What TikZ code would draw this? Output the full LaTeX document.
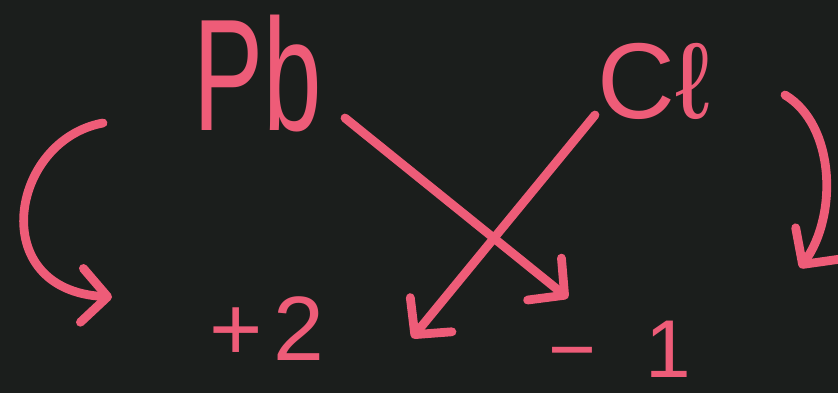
\documentclass[tikz,border=0pt]{standalone}
\usepackage{fontspec}
\setmainfont{Liberation Sans}
\usetikzlibrary{arrows.meta}
\definecolor{board}{RGB}{27,30,28}
\definecolor{chalk}{RGB}{238,92,120}
\begin{document}
\begin{tikzpicture}[x=0.03cm,y=-0.03cm,
  chalktext/.style={text=chalk,inner sep=0pt,anchor=base},
  chalkline/.style={draw=chalk,line width=7.5pt,line cap=round,line join=round,
    -{Straight Barb[length=22pt,width=46pt,line width=7.5pt,round]}}]
\fill[board] (0,0) rectangle (838,393);
\useasboundingbox (0,0) rectangle (838,393);
\node[chalktext,font=\fontsize{136}{136}\selectfont,xscale=0.66,transform shape] (pb) at (258,130) {Pb};
\node[chalktext,font=\fontsize{92}{92}\selectfont] (cl) at (654,118) {Cℓ};
\node[chalktext,font=\fontsize{78}{78}\selectfont] (plus) at (267,360) {+\kern0.12em 2};
\node[chalktext,font=\fontsize{70}{70}\selectfont] (minus) at (620,377) {−\kern0.6em 1};
\coordinate (pbs) at (345,118);
\coordinate (pbe) at (568,298);
\coordinate (cls) at (595,115);
\coordinate (cle) at (412,338);
\coordinate (ls) at (103,123);
\coordinate (le) at (112,297);
\coordinate (rs) at (785,95);
\coordinate (re) at (800,268);
\draw[chalkline] (pbs) -- (pbe);
\draw[chalkline] (cls) -- (cle);
\draw[chalkline] (ls) .. controls (10,140) and (-15,290) .. (le);
\draw[chalkline] (rs) .. controls (835,125) and (838,215) .. (re);
\end{tikzpicture}
\end{document}
